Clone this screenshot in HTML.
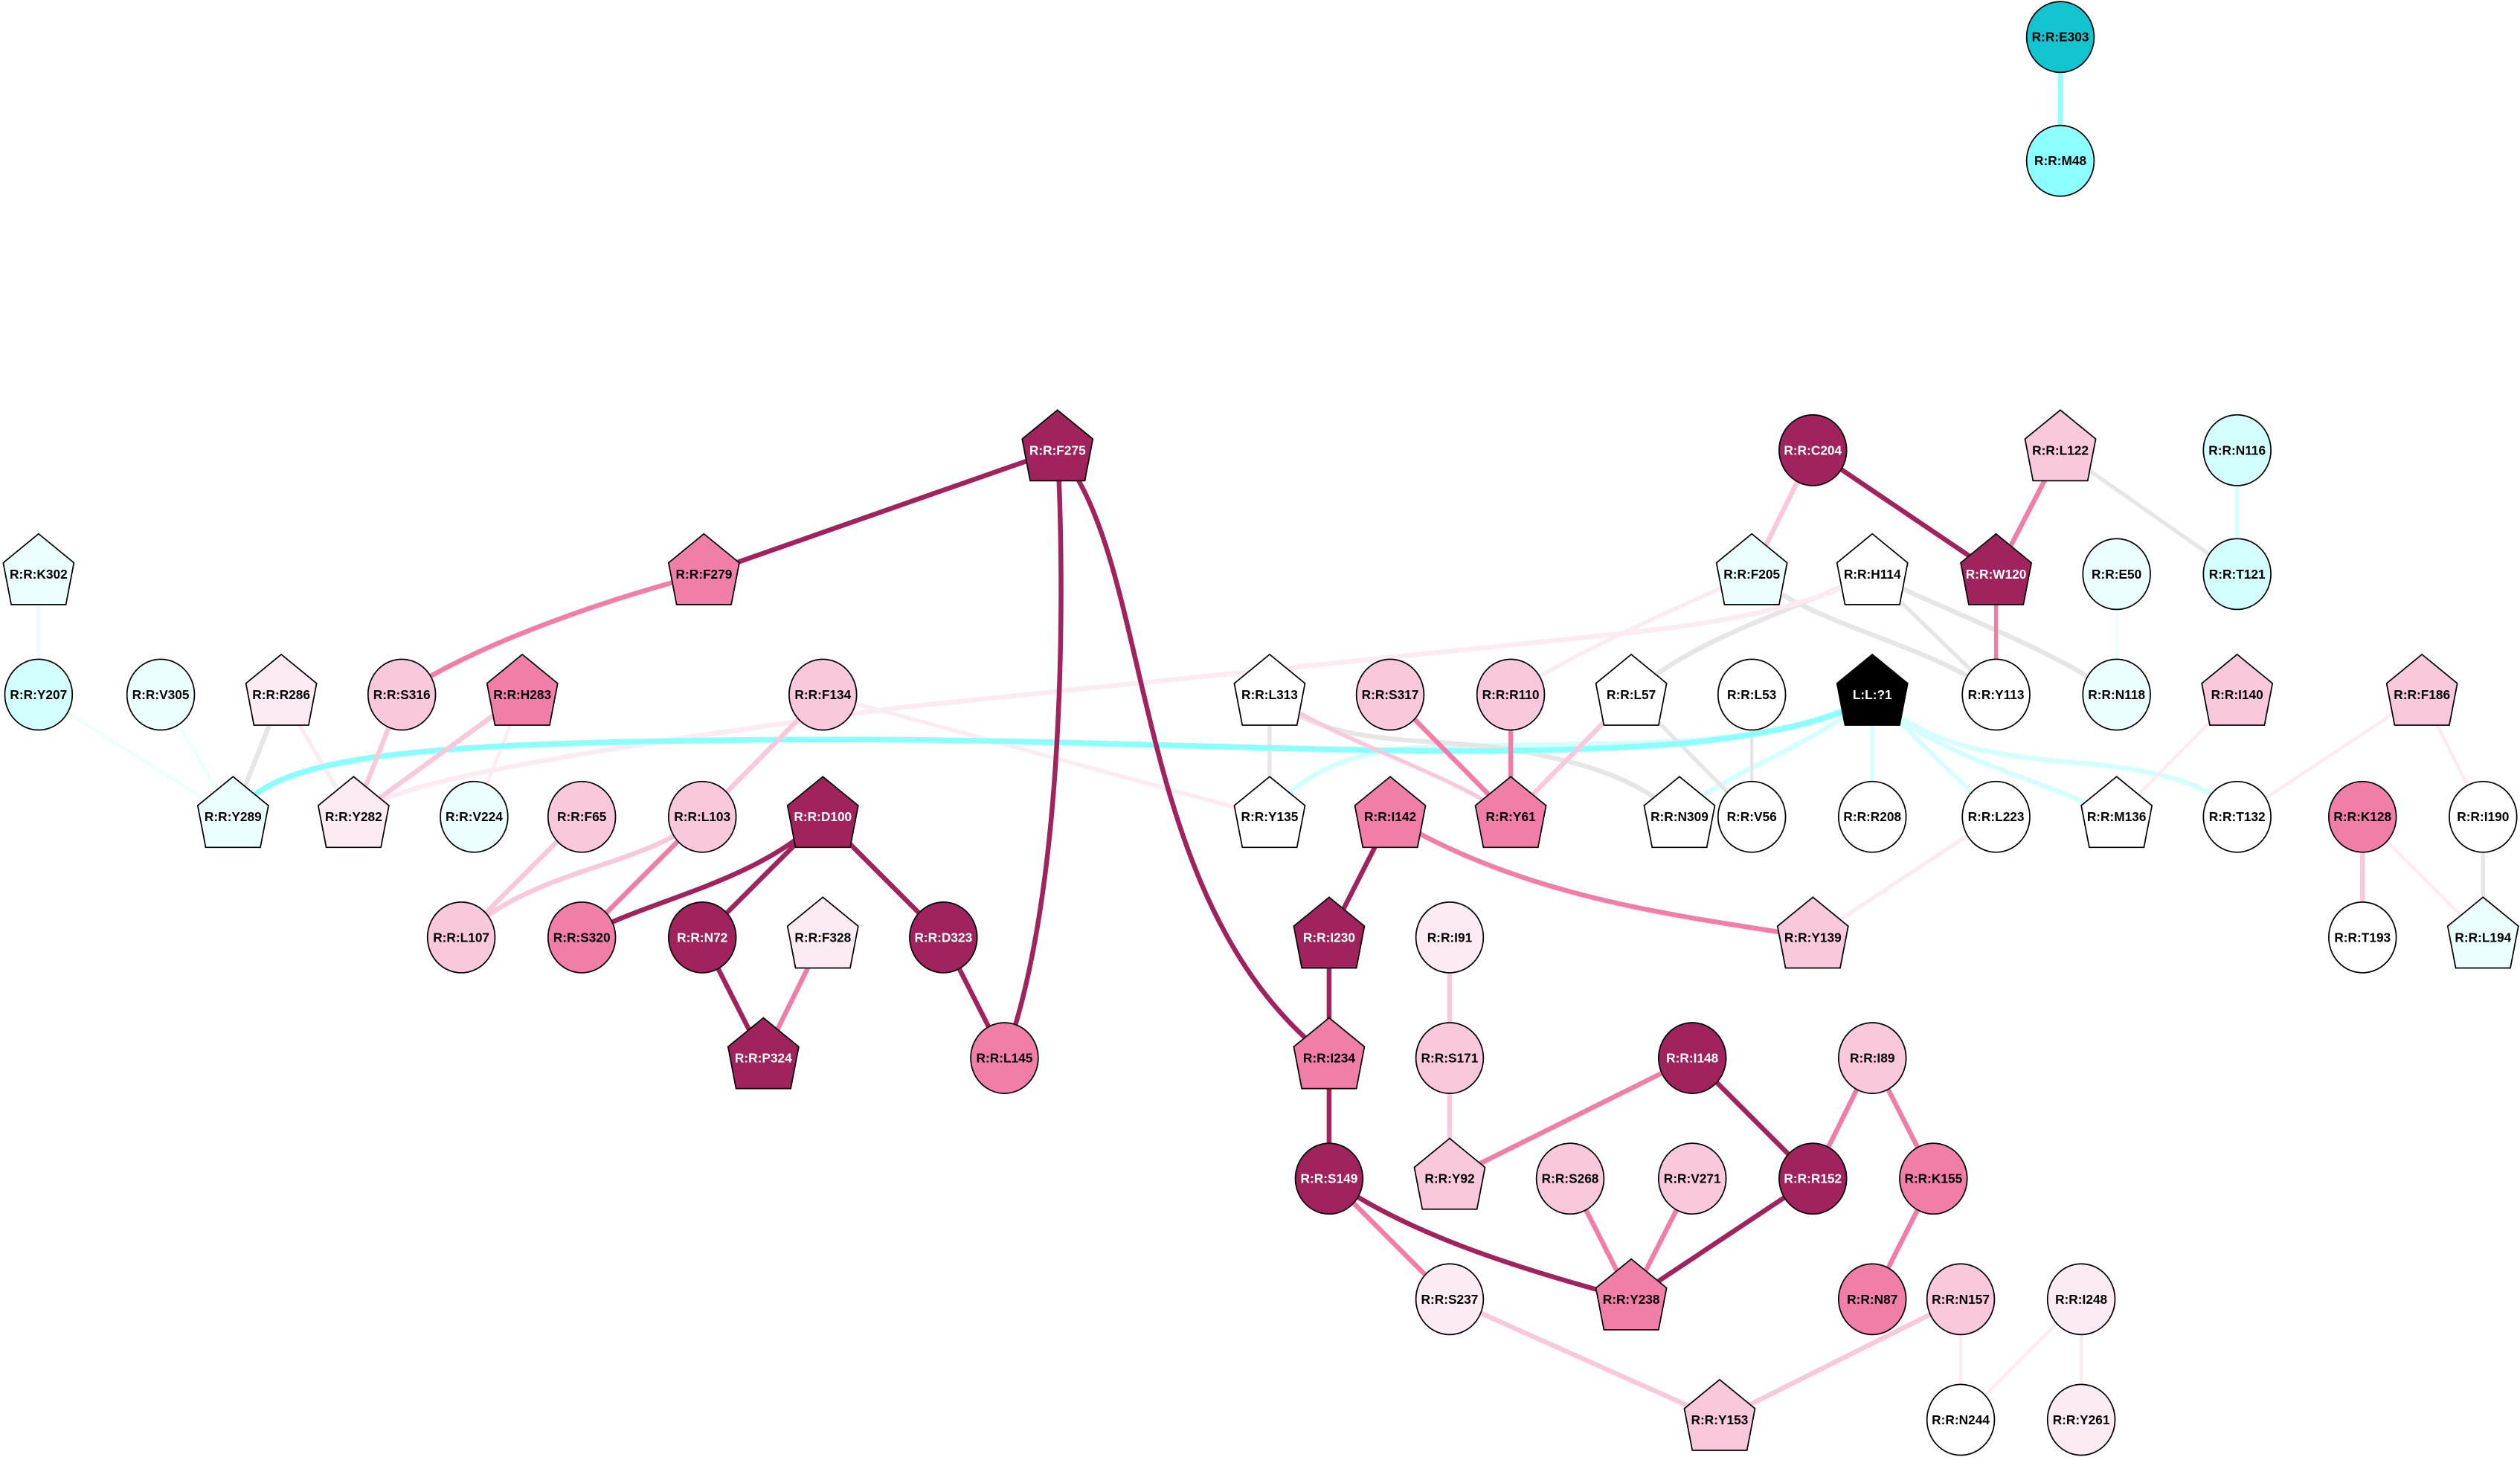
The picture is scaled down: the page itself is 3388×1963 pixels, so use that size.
<!DOCTYPE html>
<html><head><meta charset="utf-8"><style>
html,body{margin:0;padding:0;background:#fff;}
svg{display:block;}
text{font-family:"Liberation Sans",Arial,sans-serif;font-weight:bold;font-size:8px;text-anchor:middle;dominant-baseline:central;}
.w{fill:#fff;}
</style></head><body>
<svg width="3388" height="1963" viewBox="0 0 1568 908" preserveAspectRatio="none" xmlns="http://www.w3.org/2000/svg">
<g fill="none" stroke-linecap="butt">
<!-- cyan edges -->
<path d="M1282,23 L1282,100" stroke="#8cffff" stroke-width="3"/>
<path d="M24,357 L24,432" stroke="#ebffff" stroke-width="2"/>
<path d="M24,432 L145,508" stroke="#ebffff" stroke-width="2"/>
<path d="M100,432 L145,508" stroke="#ebffff" stroke-width="2"/>
<path d="M1392,280 L1392,357" stroke="#d4ffff" stroke-width="2.5"/>
<path d="M1317,357 L1317,432" stroke="#ebffff" stroke-width="2"/>
<path d="M295,508 L325,432" stroke="#fcebf3" stroke-width="2"/>
<path d="M1165,432 L1165,508" stroke="#d4ffff" stroke-width="2.5"/>
<path d="M1165,432 L1242,508" stroke="#d4ffff" stroke-width="2.5"/>
<path d="M1165,432 C1200,470 1260,480 1317,508" stroke="#d4ffff" stroke-width="3"/>
<path d="M1165,432 C1200,465 1240,470 1300,475 C1350,480 1380,490 1392,508" stroke="#d4ffff" stroke-width="3"/>
<path d="M1165,432 C1120,470 1070,480 1045,508" stroke="#d4ffff" stroke-width="3"/>
<path d="M1165,432 C1100,470 1000,460 880,465 C830,468 800,490 790,508" stroke="#d4ffff" stroke-width="3"/>
<!-- gray -->
<path d="M175,432 L145,508" stroke="#e6e6e6" stroke-width="3"/>
<path d="M1282,280 L1392,357" stroke="#e6e6e6" stroke-width="2.5"/>
<path d="M1090,357 C1130,390 1200,400 1242,432" stroke="#e6e6e6" stroke-width="3"/>
<path d="M1165,357 L1242,432" stroke="#e6e6e6" stroke-width="2.5"/>
<path d="M1165,357 C1210,380 1270,400 1317,432" stroke="#e6e6e6" stroke-width="3"/>
<path d="M1015,432 C1050,400 1100,385 1165,357" stroke="#e6e6e6" stroke-width="3"/>
<path d="M790,432 L790,508" stroke="#e6e6e6" stroke-width="2.5"/>
<path d="M790,432 C830,470 900,455 960,470 C1010,480 1030,495 1045,508" stroke="#e6e6e6" stroke-width="3"/>
<path d="M1090,432 L1090,508" stroke="#e6e6e6" stroke-width="2"/>
<path d="M1015,432 L1090,508" stroke="#e6e6e6" stroke-width="2.5"/>
<path d="M1545,508 L1545,583" stroke="#e6e6e6" stroke-width="2.5"/>
<!-- very light pink -->
<path d="M175,432 L220,508" stroke="#fcebf3" stroke-width="2.5"/>
<path d="M220,508 C240,490 300,475 560,440 C700,425 850,410 1000,395 C1100,385 1140,370 1165,357" stroke="#fcebf3" stroke-width="3"/>
<path d="M940,432 C980,405 1040,380 1090,357" stroke="#fcebf3" stroke-width="2.5"/>
<path d="M512,432 L790,508" stroke="#fcebf3" stroke-width="2.5"/>
<path d="M1392,432 L1317,508" stroke="#fcebf3" stroke-width="2"/>
<path d="M1507,432 L1392,508" stroke="#fcebf3" stroke-width="2"/>
<path d="M1507,432 L1545,508" stroke="#fcebf3" stroke-width="2"/>
<path d="M1470,508 L1545,583" stroke="#fcebf3" stroke-width="2"/>
<path d="M1242,508 L1128,583" stroke="#fcebf3" stroke-width="2.5"/>
<path d="M1220,808 L1220,883" stroke="#fcebf3" stroke-width="2"/>
<path d="M1295,808 L1220,883" stroke="#fcebf3" stroke-width="2"/>
<path d="M1295,808 L1295,883" stroke="#fcebf3" stroke-width="2"/>
<!-- big cyan curve -->
<path d="M145,508 C170,470 250,462 480,460 C700,458 900,475 1050,462 C1110,456 1150,445 1165,432" stroke="#8cffff" stroke-width="3.5"/>
<!-- light pink -->
<path d="M250,432 L220,508" stroke="#f9c8dc" stroke-width="3"/>
<path d="M325,432 L220,508" stroke="#f9c8dc" stroke-width="3"/>
<path d="M512,432 L437,508" stroke="#f9c8dc" stroke-width="3"/>
<path d="M362,508 L287,583" stroke="#f9c8dc" stroke-width="3"/>
<path d="M437,508 C400,540 330,540 287,583" stroke="#f9c8dc" stroke-width="3"/>
<path d="M1128,280 L1090,357" stroke="#f9c8dc" stroke-width="3"/>
<path d="M790,432 C830,460 900,480 940,508" stroke="#f9c8dc" stroke-width="2.5"/>
<path d="M1015,432 L940,508" stroke="#f9c8dc" stroke-width="3"/>
<path d="M1470,508 L1470,583" stroke="#f9c8dc" stroke-width="3"/>
<path d="M902,583 L902,658" stroke="#f9c8dc" stroke-width="3"/>
<path d="M902,658 L902,733" stroke="#f9c8dc" stroke-width="3"/>
<path d="M902,808 L1070,883" stroke="#f9c8dc" stroke-width="3"/>
<path d="M1220,808 L1070,883" stroke="#f9c8dc" stroke-width="3"/>
<!-- mid pink -->
<path d="M438,357 C350,380 280,410 250,432" stroke="#f07ea8" stroke-width="3"/>
<path d="M437,508 L362,583" stroke="#f07ea8" stroke-width="3"/>
<path d="M512,583 L475,658" stroke="#f07ea8" stroke-width="3"/>
<path d="M1282,280 L1242,357" stroke="#f07ea8" stroke-width="3"/>
<path d="M1242,357 L1242,432" stroke="#f07ea8" stroke-width="2.5"/>
<path d="M865,432 L940,508" stroke="#f07ea8" stroke-width="3"/>
<path d="M940,432 L940,508" stroke="#f07ea8" stroke-width="3"/>
<path d="M865,508 C950,560 1050,570 1128,583" stroke="#f07ea8" stroke-width="3"/>
<path d="M1053,658 L902,733" stroke="#f07ea8" stroke-width="3"/>
<path d="M1165,658 L1128,733" stroke="#f07ea8" stroke-width="3"/>
<path d="M1165,658 L1203,733" stroke="#f07ea8" stroke-width="3"/>
<path d="M1203,733 L1165,808" stroke="#f07ea8" stroke-width="3"/>
<path d="M827,733 L902,808" stroke="#f07ea8" stroke-width="3"/>
<path d="M977,733 L1015,808" stroke="#f07ea8" stroke-width="3"/>
<path d="M1053,733 L1015,808" stroke="#f07ea8" stroke-width="3"/>
<!-- dark -->
<g stroke="#a0235e" stroke-width="3">
<path d="M658,280 L438,357"/>
<path d="M658,280 C662,350 665,550 625,658"/>
<path d="M658,280 C720,350 700,560 827,658"/>
<path d="M512,508 C470,550 400,560 362,583"/>
<path d="M512,508 L437,583"/>
<path d="M512,508 L587,583"/>
<path d="M437,583 L475,658"/>
<path d="M587,583 L625,658"/>
<path d="M1128,280 L1242,357"/>
<path d="M865,508 L827,583"/>
<path d="M827,583 L827,658"/>
<path d="M827,658 L827,733"/>
<path d="M1053,658 L1128,733"/>
<path d="M827,733 C880,770 950,790 1015,808"/>
<path d="M1128,733 L1015,808"/>
</g>
</g>
<!-- nodes -->
<g stroke="#000" stroke-width="0.8">
<!-- circles -->
<ellipse cx="1282" cy="23" rx="21" ry="22" fill="#12c4d0"/><text x="1282" y="23" stroke="none">R:R:E303</text>
<ellipse cx="1282" cy="100" rx="21" ry="22" fill="#8cffff"/><text x="1282" y="100" stroke="none">R:R:M48</text>
<ellipse cx="24" cy="432" rx="21" ry="22" fill="#d4ffff"/><text x="24" y="432" stroke="none">R:R:Y207</text>
<ellipse cx="100" cy="432" rx="21" ry="22" fill="#ebffff"/><text x="100" y="432" stroke="none">R:R:V305</text>
<ellipse cx="250" cy="432" rx="21" ry="22" fill="#f9c8dc"/><text x="250" y="432" stroke="none">R:R:S316</text>
<ellipse cx="512" cy="432" rx="21" ry="22" fill="#f9c8dc"/><text x="512" y="432" stroke="none">R:R:F134</text>
<ellipse cx="295" cy="508" rx="21" ry="22" fill="#ebffff"/><text x="295" y="508" stroke="none">R:R:V224</text>
<ellipse cx="362" cy="508" rx="21" ry="22" fill="#f9c8dc"/><text x="362" y="508" stroke="none">R:R:F65</text>
<ellipse cx="437" cy="508" rx="21" ry="22" fill="#f9c8dc"/><text x="437" y="508" stroke="none">R:R:L103</text>
<ellipse cx="287" cy="583" rx="21" ry="22" fill="#f9c8dc"/><text x="287" y="583" stroke="none">R:R:L107</text>
<ellipse cx="362" cy="583" rx="21" ry="22" fill="#f07ea8"/><text x="362" y="583" stroke="none">R:R:S320</text>
<ellipse cx="437" cy="583" rx="21" ry="22" fill="#a0235e"/><text x="437" y="583" stroke="none" class="w">R:R:N72</text>
<ellipse cx="587" cy="583" rx="21" ry="22" fill="#a0235e"/><text x="587" y="583" stroke="none" class="w">R:R:D323</text>
<ellipse cx="625" cy="658" rx="21" ry="22" fill="#f07ea8"/><text x="625" y="658" stroke="none">R:R:L145</text>
<ellipse cx="1128" cy="280" rx="21" ry="22" fill="#a0235e"/><text x="1128" y="280" stroke="none" class="w">R:R:C204</text>
<ellipse cx="1392" cy="280" rx="21" ry="22" fill="#d4ffff"/><text x="1392" y="280" stroke="none">R:R:N116</text>
<ellipse cx="1317" cy="357" rx="21" ry="22" fill="#ebffff"/><text x="1317" y="357" stroke="none">R:R:E50</text>
<ellipse cx="1392" cy="357" rx="21" ry="22" fill="#d4ffff"/><text x="1392" y="357" stroke="none">R:R:T121</text>
<ellipse cx="865" cy="432" rx="21" ry="22" fill="#f9c8dc"/><text x="865" y="432" stroke="none">R:R:S317</text>
<ellipse cx="940" cy="432" rx="21" ry="22" fill="#f9c8dc"/><text x="940" y="432" stroke="none">R:R:R110</text>
<ellipse cx="1090" cy="432" rx="21" ry="22" fill="#fff"/><text x="1090" y="432" stroke="none">R:R:L53</text>
<ellipse cx="1242" cy="432" rx="21" ry="22" fill="#fff"/><text x="1242" y="432" stroke="none">R:R:Y113</text>
<ellipse cx="1317" cy="432" rx="21" ry="22" fill="#ebffff"/><text x="1317" y="432" stroke="none">R:R:N118</text>
<ellipse cx="1090" cy="508" rx="21" ry="22" fill="#fff"/><text x="1090" y="508" stroke="none">R:R:V56</text>
<ellipse cx="1165" cy="508" rx="21" ry="22" fill="#fff"/><text x="1165" y="508" stroke="none">R:R:R208</text>
<ellipse cx="1242" cy="508" rx="21" ry="22" fill="#fff"/><text x="1242" y="508" stroke="none">R:R:L223</text>
<ellipse cx="1392" cy="508" rx="21" ry="22" fill="#fff"/><text x="1392" y="508" stroke="none">R:R:T132</text>
<ellipse cx="1470" cy="508" rx="21" ry="22" fill="#f07ea8"/><text x="1470" y="508" stroke="none">R:R:K128</text>
<ellipse cx="1545" cy="508" rx="21" ry="22" fill="#fff"/><text x="1545" y="508" stroke="none">R:R:I190</text>
<ellipse cx="1470" cy="583" rx="21" ry="22" fill="#fff"/><text x="1470" y="583" stroke="none">R:R:T193</text>
<ellipse cx="902" cy="583" rx="21" ry="22" fill="#fcebf3"/><text x="902" y="583" stroke="none">R:R:I91</text>
<ellipse cx="902" cy="658" rx="21" ry="22" fill="#f9c8dc"/><text x="902" y="658" stroke="none">R:R:S171</text>
<ellipse cx="1053" cy="658" rx="21" ry="22" fill="#a0235e"/><text x="1053" y="658" stroke="none" class="w">R:R:I148</text>
<ellipse cx="1165" cy="658" rx="21" ry="22" fill="#f9c8dc"/><text x="1165" y="658" stroke="none">R:R:I89</text>
<ellipse cx="827" cy="733" rx="21" ry="22" fill="#a0235e"/><text x="827" y="733" stroke="none" class="w">R:R:S149</text>
<ellipse cx="977" cy="733" rx="21" ry="22" fill="#f9c8dc"/><text x="977" y="733" stroke="none">R:R:S268</text>
<ellipse cx="1053" cy="733" rx="21" ry="22" fill="#f9c8dc"/><text x="1053" y="733" stroke="none">R:R:V271</text>
<ellipse cx="1128" cy="733" rx="21" ry="22" fill="#a0235e"/><text x="1128" y="733" stroke="none" class="w">R:R:R152</text>
<ellipse cx="1203" cy="733" rx="21" ry="22" fill="#f07ea8"/><text x="1203" y="733" stroke="none">R:R:K155</text>
<ellipse cx="902" cy="808" rx="21" ry="22" fill="#fcebf3"/><text x="902" y="808" stroke="none">R:R:S237</text>
<ellipse cx="1165" cy="808" rx="21" ry="22" fill="#f07ea8"/><text x="1165" y="808" stroke="none">R:R:N87</text>
<ellipse cx="1220" cy="808" rx="21" ry="22" fill="#f9c8dc"/><text x="1220" y="808" stroke="none">R:R:N157</text>
<ellipse cx="1295" cy="808" rx="21" ry="22" fill="#fcebf3"/><text x="1295" y="808" stroke="none">R:R:I248</text>
<ellipse cx="1220" cy="883" rx="21" ry="22" fill="#fff"/><text x="1220" y="883" stroke="none">R:R:N244</text>
<ellipse cx="1295" cy="883" rx="21" ry="22" fill="#fcebf3"/><text x="1295" y="883" stroke="none">R:R:Y261</text>
</g>
<g stroke="#000" stroke-width="0.8">
<!-- pentagons: points relative -->
<g transform="translate(658,280)"><polygon points="0,-25 22,-7 17,19 -17,19 -22,-7" fill="#a0235e"/><text y="0" stroke="none" class="w">R:R:F275</text></g>
<g transform="translate(438,357)"><polygon points="0,-25 22,-7 17,19 -17,19 -22,-7" fill="#f07ea8"/><text y="0" stroke="none">R:R:F279</text></g>
<g transform="translate(24,357)"><polygon points="0,-25 22,-7 17,19 -17,19 -22,-7" fill="#ebffff"/><text y="0" stroke="none">R:R:K302</text></g>
<g transform="translate(175,432)"><polygon points="0,-25 22,-7 17,19 -17,19 -22,-7" fill="#fcebf3"/><text y="0" stroke="none">R:R:R286</text></g>
<g transform="translate(325,432)"><polygon points="0,-25 22,-7 17,19 -17,19 -22,-7" fill="#f07ea8"/><text y="0" stroke="none">R:R:H283</text></g>
<g transform="translate(145,508)"><polygon points="0,-25 22,-7 17,19 -17,19 -22,-7" fill="#ebffff"/><text y="0" stroke="none">R:R:Y289</text></g>
<g transform="translate(220,508)"><polygon points="0,-25 22,-7 17,19 -17,19 -22,-7" fill="#fcebf3"/><text y="0" stroke="none">R:R:Y282</text></g>
<g transform="translate(512,508)"><polygon points="0,-25 22,-7 17,19 -17,19 -22,-7" fill="#a0235e"/><text y="0" stroke="none" class="w">R:R:D100</text></g>
<g transform="translate(512,583)"><polygon points="0,-25 22,-7 17,19 -17,19 -22,-7" fill="#fcebf3"/><text y="0" stroke="none">R:R:F328</text></g>
<g transform="translate(475,658)"><polygon points="0,-25 22,-7 17,19 -17,19 -22,-7" fill="#a0235e"/><text y="0" stroke="none" class="w">R:R:P324</text></g>
<g transform="translate(1282,280)"><polygon points="0,-25 22,-7 17,19 -17,19 -22,-7" fill="#f9c8dc"/><text y="0" stroke="none">R:R:L122</text></g>
<g transform="translate(1090,357)"><polygon points="0,-25 22,-7 17,19 -17,19 -22,-7" fill="#ebffff"/><text y="0" stroke="none">R:R:F205</text></g>
<g transform="translate(1165,357)"><polygon points="0,-25 22,-7 17,19 -17,19 -22,-7" fill="#fff"/><text y="0" stroke="none">R:R:H114</text></g>
<g transform="translate(1242,357)"><polygon points="0,-25 22,-7 17,19 -17,19 -22,-7" fill="#a0235e"/><text y="0" stroke="none" class="w">R:R:W120</text></g>
<g transform="translate(790,432)"><polygon points="0,-25 22,-7 17,19 -17,19 -22,-7" fill="#fff"/><text y="0" stroke="none">R:R:L313</text></g>
<g transform="translate(1015,432)"><polygon points="0,-25 22,-7 17,19 -17,19 -22,-7" fill="#fff"/><text y="0" stroke="none">R:R:L57</text></g>
<g transform="translate(1165,432)"><polygon points="0,-25 22,-7 17,19 -17,19 -22,-7" fill="#000"/><text y="0" stroke="none" class="w">L:L:?1</text></g>
<g transform="translate(1392,432)"><polygon points="0,-25 22,-7 17,19 -17,19 -22,-7" fill="#f9c8dc"/><text y="0" stroke="none">R:R:I140</text></g>
<g transform="translate(1507,432)"><polygon points="0,-25 22,-7 17,19 -17,19 -22,-7" fill="#f9c8dc"/><text y="0" stroke="none">R:R:F186</text></g>
<g transform="translate(790,508)"><polygon points="0,-25 22,-7 17,19 -17,19 -22,-7" fill="#fff"/><text y="0" stroke="none">R:R:Y135</text></g>
<g transform="translate(865,508)"><polygon points="0,-25 22,-7 17,19 -17,19 -22,-7" fill="#f07ea8"/><text y="0" stroke="none">R:R:I142</text></g>
<g transform="translate(940,508)"><polygon points="0,-25 22,-7 17,19 -17,19 -22,-7" fill="#f07ea8"/><text y="0" stroke="none">R:R:Y61</text></g>
<g transform="translate(1045,508)"><polygon points="0,-25 22,-7 17,19 -17,19 -22,-7" fill="#fff"/><text y="0" stroke="none">R:R:N309</text></g>
<g transform="translate(1317,508)"><polygon points="0,-25 22,-7 17,19 -17,19 -22,-7" fill="#fff"/><text y="0" stroke="none">R:R:M136</text></g>
<g transform="translate(1545,583)"><polygon points="0,-25 22,-7 17,19 -17,19 -22,-7" fill="#ebffff"/><text y="0" stroke="none">R:R:L194</text></g>
<g transform="translate(827,583)"><polygon points="0,-25 22,-7 17,19 -17,19 -22,-7" fill="#a0235e"/><text y="0" stroke="none" class="w">R:R:I230</text></g>
<g transform="translate(1128,583)"><polygon points="0,-25 22,-7 17,19 -17,19 -22,-7" fill="#f9c8dc"/><text y="0" stroke="none">R:R:Y139</text></g>
<g transform="translate(827,658)"><polygon points="0,-25 22,-7 17,19 -17,19 -22,-7" fill="#f07ea8"/><text y="0" stroke="none">R:R:I234</text></g>
<g transform="translate(902,733)"><polygon points="0,-25 22,-7 17,19 -17,19 -22,-7" fill="#f9c8dc"/><text y="0" stroke="none">R:R:Y92</text></g>
<g transform="translate(1015,808)"><polygon points="0,-25 22,-7 17,19 -17,19 -22,-7" fill="#f07ea8"/><text y="0" stroke="none">R:R:Y238</text></g>
<g transform="translate(1070,883)"><polygon points="0,-25 22,-7 17,19 -17,19 -22,-7" fill="#f9c8dc"/><text y="0" stroke="none">R:R:Y153</text></g>
</g>
</svg>
</body></html>
